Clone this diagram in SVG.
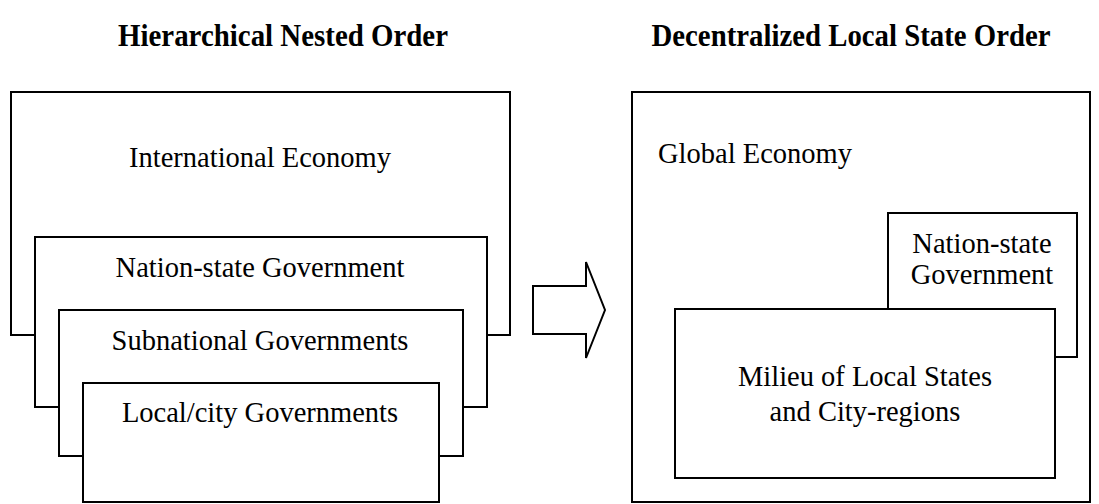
<svg xmlns="http://www.w3.org/2000/svg" width="1099" height="504" viewBox="0 0 1099 504">
  <style>
    .box { fill: #fff; stroke: #000; stroke-width: 2; }
    .lbl { font-family: "Liberation Serif", "Times New Roman", serif; font-size: 28.5px; fill: #000; text-anchor: middle; }
    .ttl { font-family: "Liberation Serif", "Times New Roman", serif; font-size: 31px; font-weight: bold; fill: #000; text-anchor: middle; }
  </style>
  <rect width="1099" height="504" fill="#fff"/>

  <!-- Titles -->
  <text class="ttl" x="283" y="46" textLength="330" lengthAdjust="spacingAndGlyphs">Hierarchical Nested Order</text>
  <text class="ttl" x="851" y="46" textLength="399" lengthAdjust="spacingAndGlyphs">Decentralized Local State Order</text>

  <!-- Left: nested layers -->
  <g id="international-economy">
    <rect class="box" x="11" y="92" width="499" height="243"/>
    <text class="lbl" x="260" y="167">International Economy</text>
  </g>
  <g id="nation-state-government">
    <rect class="box" x="35" y="237" width="452" height="170"/>
    <text class="lbl" x="260" y="277">Nation-state Government</text>
  </g>
  <g id="subnational-governments">
    <rect class="box" x="59" y="310" width="404" height="146"/>
    <text class="lbl" x="260" y="350">Subnational Governments</text>
  </g>
  <g id="local-city-governments">
    <rect class="box" x="83" y="383" width="356" height="119"/>
    <text class="lbl" x="260" y="422">Local/city Governments</text>
  </g>

  <!-- Transition arrow -->
  <g id="connectors">
    <polygon class="box" points="533,286 586,286 586,262 605,310 586,358 586,334 533,334"/>
  </g>

  <!-- Right: decentralized order -->
  <g id="global-economy">
    <rect class="box" x="632" y="92" width="458" height="410"/>
    <text class="lbl" x="755" y="163">Global Economy</text>
  </g>
  <g id="nation-state-government-right">
    <rect class="box" x="888" y="213" width="189" height="144"/>
    <text class="lbl" x="982" y="253">Nation-state</text>
    <text class="lbl" x="982" y="284">Government</text>
  </g>
  <g id="milieu-local-states">
    <rect class="box" x="675" y="309" width="380" height="169"/>
    <text class="lbl" x="865" y="386">Milieu of Local States</text>
    <text class="lbl" x="865" y="421">and City-regions</text>
  </g>
</svg>
